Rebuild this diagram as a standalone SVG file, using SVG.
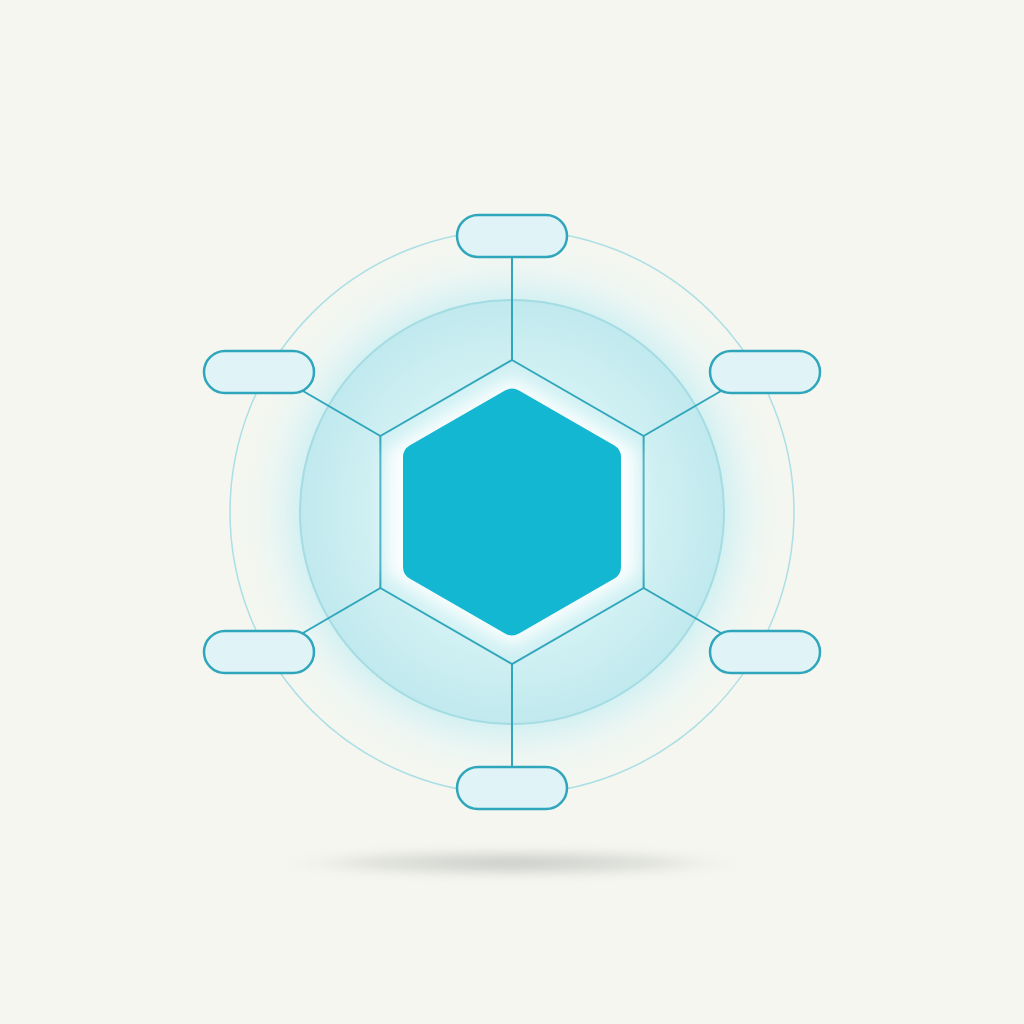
<svg xmlns="http://www.w3.org/2000/svg" width="1024" height="1024" viewBox="0 0 1024 1024">
<defs>
<style>
.pill{fill:#e0f4f7;stroke:#2fa6bb;stroke-width:2.5}
.conn{stroke:#2fa6bb;stroke-width:2;fill:none}
.hexline{stroke:#2fa6bb;stroke-width:2;fill:none;stroke-linejoin:miter}
</style>
<radialGradient id="halo" cx="512" cy="512" r="285" gradientUnits="userSpaceOnUse">
<stop offset="0.72" stop-color="#c9eef2" stop-opacity="0.9"/>
<stop offset="0.86" stop-color="#e6f6f5" stop-opacity="0.55"/>
<stop offset="1" stop-color="#f5f7f1" stop-opacity="0"/>
</radialGradient>
<radialGradient id="inner" cx="512" cy="512" r="212" gradientUnits="userSpaceOnUse">
<stop offset="0.55" stop-color="#d6f3f5"/>
<stop offset="1" stop-color="#c0e9ee"/>
</radialGradient>
<radialGradient id="shadow" cx="0.5" cy="0.5" r="0.5">
<stop offset="0" stop-color="#c8cac6"/>
<stop offset="0.6" stop-color="#d8dad5" stop-opacity="0.7"/>
<stop offset="1" stop-color="#f5f6f0" stop-opacity="0"/>
</radialGradient>
<filter id="blur" x="-50%" y="-200%" width="200%" height="500%"><feGaussianBlur stdDeviation="5"/></filter>
<filter id="glow" x="-30%" y="-30%" width="160%" height="160%"><feGaussianBlur stdDeviation="8"/></filter>
</defs>
<rect width="1024" height="1024" fill="#f5f6f0"/>
<ellipse cx="512" cy="863" rx="250" ry="16" fill="url(#shadow)" filter="url(#blur)"/>
<g id="rings">
<circle cx="512" cy="512" r="282" fill="url(#halo)"/>
<circle cx="512" cy="512" r="282" fill="none" stroke="#aadfe5" stroke-width="1.5"/>
<circle cx="512" cy="512" r="212" fill="url(#inner)" stroke="#a4dce3" stroke-width="2"/>
</g>
<g id="hub">
<polygon class="hexline" points="512,360 643.6,436 643.6,588 512,664 380.4,588 380.4,436" fill="#d4f2f5"/>
<path d="M512,378 L637,450 L637,574 L512,646 L387,574 L387,450 Z" fill="#ffffff" opacity="0.9" filter="url(#glow)"/>
<path d="M505,390.5 Q512,386.5 519,390.5 L614,445.3 Q621,449.3 621,457.3 L621,566.7 Q621,574.7 614,578.7 L519,633.5 Q512,637.5 505,633.5 L410,578.7 Q403,574.7 403,566.7 L403,457.3 Q403,449.3 410,445.3 Z" fill="#14b7d2"/>
</g>
<g id="connectors">
<line class="conn" x1="512" y1="257" x2="512" y2="360"/>
<line class="conn" x1="512" y1="664" x2="512" y2="767"/>
<line class="conn" x1="303" y1="391" x2="380.4" y2="436"/>
<line class="conn" x1="721" y1="391" x2="643.6" y2="436"/>
<line class="conn" x1="303" y1="633" x2="380.4" y2="588"/>
<line class="conn" x1="721" y1="633" x2="643.6" y2="588"/>
</g>
<g id="node-top"><rect class="pill" x="457" y="215" width="110" height="42" rx="21"/></g>
<g id="node-upper-left"><rect class="pill" x="204" y="351" width="110" height="42" rx="21"/></g>
<g id="node-upper-right"><rect class="pill" x="710" y="351" width="110" height="42" rx="21"/></g>
<g id="node-lower-left"><rect class="pill" x="204" y="631" width="110" height="42" rx="21"/></g>
<g id="node-lower-right"><rect class="pill" x="710" y="631" width="110" height="42" rx="21"/></g>
<g id="node-bottom"><rect class="pill" x="457" y="767" width="110" height="42" rx="21"/></g>
</svg>
